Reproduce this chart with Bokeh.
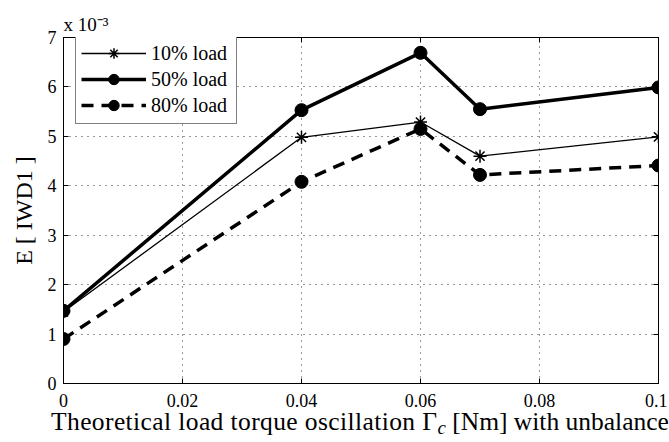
from bokeh.plotting import figure
from bokeh.models import (Legend, LegendItem, LinearAxis, FixedTicker,
                          Range1d, Div)
from bokeh.layouts import column
from bokeh.embed import file_html
from bokeh.resources import INLINE

# ---- data (y values in units of 1e-3) ----
x_vals = [0.0, 0.04, 0.06, 0.07, 0.1]
load10 = [1.45, 4.98, 5.29, 4.60, 4.99]
load50 = [1.47, 5.53, 6.69, 5.55, 5.99]
load80 = [0.90, 4.08, 5.15, 4.22, 4.41]
series_names = ["10% load", "50% load", "80% load"]

x_ticks = [0.0, 0.02, 0.04, 0.06, 0.08, 0.1]
x_tick_labels = ["0", "0.02", "0.04", "0.06", "0.08", "0.1"]
y_ticks = [0, 1, 2, 3, 4, 5, 6, 7]
scale_text = "x 10\u207b\u00b3"

FONT = "Liberation Serif"
W = 667

p = figure(width=W, height=414, output_backend="svg", toolbar_location=None,
           x_range=Range1d(0, 0.1), y_range=Range1d(0, 7),
           min_border_left=63, min_border_right=9, min_border_top=37,
           min_border_bottom=31, title=scale_text)
p.title.align = "left"
p.title.text_font = FONT
p.title.text_font_size = "19px"
p.title.text_font_style = "normal"
p.title.text_color = "black"
p.title.standoff = 6
p.title.offset = 0

p.background_fill_color = "white"
p.border_fill_color = "white"
p.outline_line_color = "black"
p.outline_line_width = 1

xt = FixedTicker(ticks=x_ticks)
yt = FixedTicker(ticks=y_ticks)

for ax in p.xaxis:
    ax.ticker = xt
    ax.major_label_overrides = {t: l for t, l in zip(x_ticks, x_tick_labels)}
for ax in p.yaxis:
    ax.ticker = yt
    ax.axis_label = "E [ IWD1 ]"
    ax.axis_label_text_font = FONT
    ax.axis_label_text_font_size = "24px"
    ax.axis_label_text_font_style = "normal"
    ax.axis_label_text_color = "black"
    ax.axis_label_standoff = 8

for ax in list(p.xaxis) + list(p.yaxis):
    ax.major_tick_in = 5
    ax.major_tick_out = 0
    ax.minor_tick_line_color = None
    ax.axis_line_color = "black"
    ax.major_tick_line_color = "black"
    ax.major_label_text_font = FONT
    ax.major_label_text_font_size = "18px"
    ax.major_label_text_color = "black"
p.xaxis.major_label_standoff = 10
p.yaxis.major_label_standoff = 7

top = LinearAxis(ticker=xt, major_label_text_font_size="1px",
                 major_label_text_color=None, major_tick_in=5,
                 major_tick_out=0, minor_tick_line_color=None,
                 major_label_standoff=0, axis_line_color="black")
right = LinearAxis(ticker=yt, major_label_text_font_size="1px",
                   major_label_text_color=None, major_tick_in=5,
                   major_tick_out=0, minor_tick_line_color=None,
                   major_label_standoff=0, axis_line_color="black")
p.add_layout(top, "above")
p.add_layout(right, "right")

for g in (p.xgrid, p.ygrid):
    g.grid_line_color = "#333333"
    g.grid_line_dash = "1 5"
    g.grid_line_width = 1
p.xgrid.ticker = xt
p.ygrid.ticker = yt

# ---- series ----
l10 = p.line(x_vals, load10, line_color="black", line_width=1.3)
s10 = p.scatter(x_vals, load10, marker="asterisk", size=13, line_color="black",
                line_width=1.5)
l50 = p.line(x_vals, load50, line_color="black", line_width=3.5)
s50 = p.scatter(x_vals, load50, marker="circle", size=13, fill_color="black",
                line_color="black")
l80 = p.line(x_vals, load80, line_color="black", line_width=3.5,
             line_dash="12 8")
s80 = p.scatter(x_vals, load80, marker="circle", size=13, fill_color="black",
                line_color="black")

legend = Legend(items=[
    LegendItem(label=series_names[0], renderers=[l10, s10]),
    LegendItem(label=series_names[1], renderers=[l50, s50]),
    LegendItem(label=series_names[2], renderers=[l80, s80]),
], location=(12, 259), glyph_width=65, glyph_height=26, label_height=18,
   label_width=80, spacing=-3, padding=5, label_standoff=5,
   label_text_font=FONT, label_text_font_size="20px",
   label_text_color="black", border_line_color="black", border_line_width=1,
   background_fill_alpha=1, margin=0)
p.add_layout(legend)

# ---- x axis label with subscript, below the plot ----
bottom_html = (
    '<div style="position:relative;width:%dpx;height:26px;'
    'font-family:\'Liberation Serif\';color:black;white-space:nowrap;">'
    '<span style="position:absolute;left:51px;top:-5px;font-size:25.5px;'
    'line-height:26px;">'
    '<span style="letter-spacing:0.4px;">'
    'Theoretical load torque oscillation \u0393</span>'
    '<span style="font-style:italic;font-size:19px;position:relative;'
    'top:4px;">c</span> [Nm] with unbalance'
    '</span></div>' % W)
bottom_div = Div(text=bottom_html, width=W, height=26, margin=0)

layout = column(p, bottom_div, spacing=0)

open("out.html", "w").write(file_html(layout, INLINE))
